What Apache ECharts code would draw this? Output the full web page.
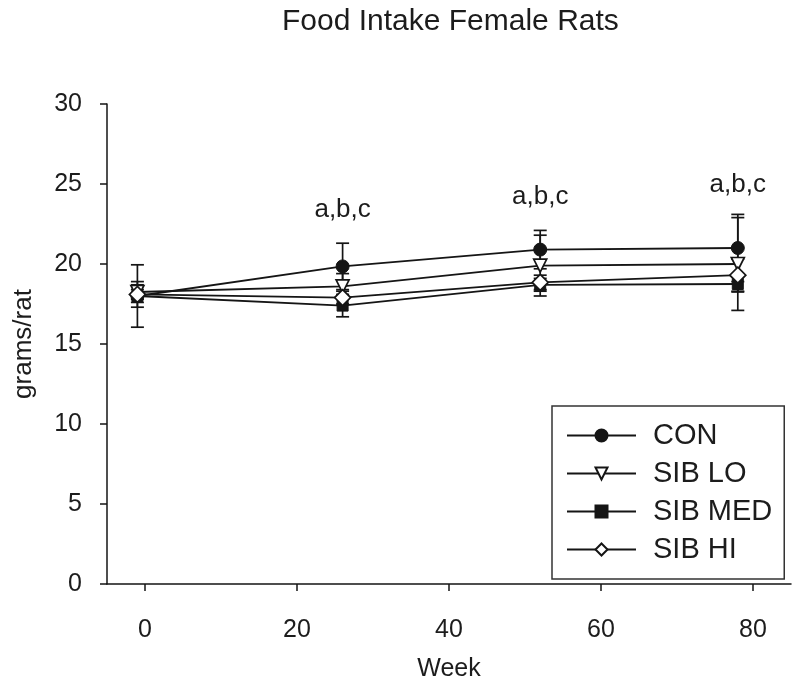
<!DOCTYPE html>
<html><head><meta charset="utf-8">
<script src="https://cdn.jsdelivr.net/npm/echarts@6/dist/echarts.min.js"></script>
<style>html,body{margin:0;padding:0;background:#fff}#c{width:800px;height:691px}</style>
</head><body><div id="c"></div>
<script>
// ---- data ----
const weeks = [-1, 26, 52, 78];
const seriesNames = ['CON', 'SIB LO', 'SIB MED', 'SIB HI'];
const conMean = [18.0, 19.85, 20.9, 21.0];
const conErr  = [1.95, 1.45, 1.2, 2.1];
const loMean  = [18.25, 18.6, 19.9, 20.0];
const loErr   = [0.65, 0.8, 1.9, 2.9];
const medMean = [18.0, 17.4, 18.7, 18.75];
const medErr  = [0.7, 0.7, 0.4, 0.5];
const hiMean  = [18.1, 17.9, 18.85, 19.3];
const hiErr   = [0.3, 0.4, 0.45, 1.0];
const annoWeeks = [26, 52, 78];
const annoY = [23.4, 24.2, 24.95];
const annoText = 'a,b,c';
const xTicks = [0, 20, 40, 60, 80];

const FONT = '"Liberation Sans", Arial, sans-serif';
const INK = '#151515';
const TXT = '#1c1c1c';

function lineSeries(name, mean, symbol, size, filled, rotate) {
  return {
    type: 'line', name: name, z: 3,
    data: weeks.map((w, i) => [w, mean[i]]),
    symbol: symbol, symbolSize: size, symbolRotate: rotate || 0,
    showSymbol: true,
    lineStyle: { color: INK, width: 1.8 },
    itemStyle: filled ? { color: INK, borderColor: INK, borderWidth: 1 }
                      : { color: '#fff', borderColor: INK, borderWidth: 1.7 },
    emphasis: { disabled: true }, animation: false
  };
}
function errSeries(name, mean, err) {
  return {
    type: 'custom', name: 'err ' + name, z: 2, silent: true, animation: false,
    data: weeks.map((w, i) => [w, mean[i] - err[i], mean[i] + err[i]]),
    encode: { x: 0, y: [1, 2] },
    renderItem: function (params, api) {
      const x = api.value(0);
      const p1 = api.coord([x, api.value(1)]);
      const p2 = api.coord([x, api.value(2)]);
      const hw = 6.5;
      const st = { stroke: INK, lineWidth: 1.7 };
      return { type: 'group', children: [
        { type: 'line', shape: { x1: p1[0], y1: p1[1], x2: p2[0], y2: p2[1] }, style: st },
        { type: 'line', shape: { x1: p1[0] - hw, y1: p1[1], x2: p1[0] + hw, y2: p1[1] }, style: st },
        { type: 'line', shape: { x1: p2[0] - hw, y1: p2[1], x2: p2[0] + hw, y2: p2[1] }, style: st }
      ]};
    }
  };
}

const chart = echarts.init(document.getElementById('c'), null, { renderer: 'canvas' });
chart.setOption({
  backgroundColor: '#fff',
  animation: false,
  title: {
    text: 'Food Intake Female Rats', left: 282, top: 4, padding: [3, 0, 0, 0],
    textStyle: { fontFamily: FONT, fontSize: 30, fontWeight: 'normal', color: TXT }
  },
  grid: { left: 107, right: 9, top: 104, bottom: 107 },
  xAxis: {
    type: 'value', min: -5, max: 85,
    name: 'Week', nameLocation: 'middle', nameGap: 73,
    nameTextStyle: { fontFamily: FONT, fontSize: 25, color: TXT },
    axisLine: { show: true, onZero: false, lineStyle: { color: INK, width: 1.5 } },
    axisTick: { show: true, length: 7, customValues: xTicks, lineStyle: { color: INK, width: 1.5 } },
    axisLabel: { customValues: xTicks, fontFamily: FONT, fontSize: 25, color: TXT, margin: 34 },
    splitLine: { show: false }
  },
  yAxis: {
    type: 'value', min: 0, max: 30, interval: 5,
    name: 'grams/rat', nameLocation: 'middle', nameGap: 70, nameRotate: 90,
    nameTextStyle: { fontFamily: FONT, fontSize: 26, color: TXT },
    axisLine: { show: true, onZero: false, lineStyle: { color: INK, width: 1.5 } },
    axisTick: { show: true, length: 7, lineStyle: { color: INK, width: 1.5 } },
    axisLabel: { fontFamily: FONT, fontSize: 25, color: TXT, margin: 25 },
    splitLine: { show: false }
  },
  legend: {
    data: seriesNames, orient: 'vertical', left: 552, top: 406,
    padding: [15, 12, 15, 14], itemWidth: 69, itemHeight: 15, itemGap: 9,
    borderColor: '#333', borderWidth: 1.5, backgroundColor: '#fff',
    selectedMode: false,
    textStyle: { fontFamily: FONT, fontSize: 29, color: TXT, padding: [0, 0, 0, 12] }
  },
  series: [
    errSeries('CON', conMean, conErr),
    errSeries('SIB LO', loMean, loErr),
    errSeries('SIB MED', medMean, medErr),
    errSeries('SIB HI', hiMean, hiErr),
    lineSeries('CON', conMean, 'circle', 13, true),
    lineSeries('SIB LO', loMean, 'triangle', 13, false, 180),
    lineSeries('SIB MED', medMean, 'rect', 11, true),
    lineSeries('SIB HI', hiMean, 'diamond', 16, false),
    {
      type: 'scatter', name: 'anno', silent: true, symbolSize: 0, z: 4,
      data: annoWeeks.map((w, i) => [w, annoY[i]]),
      itemStyle: { color: TXT, opacity: 1 },
      emphasis: { disabled: true },
      label: { show: true, position: 'inside', formatter: annoText, opacity: 1,
               fontFamily: FONT, fontSize: 26, color: TXT, textBorderWidth: 0 }
    }
  ]
});
</script>
</body></html>
